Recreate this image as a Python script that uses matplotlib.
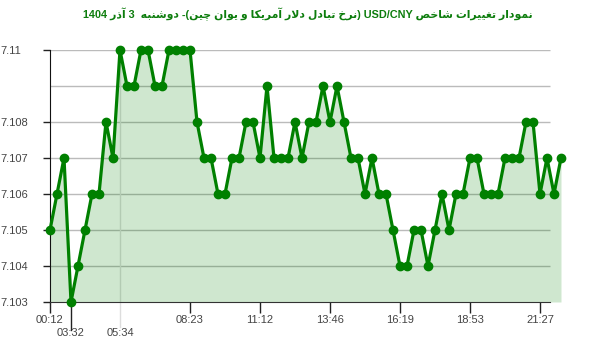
import re
import numpy as np
import matplotlib
matplotlib.use("Agg")
import matplotlib.pyplot as plt

# rate values, one every ~20 min
values = [7.105, 7.106, 7.107, 7.103, 7.104, 7.105, 7.106, 7.106, 7.108, 7.107,
          7.110, 7.109, 7.109, 7.110, 7.110, 7.109, 7.109, 7.110, 7.110, 7.110,
          7.110, 7.108, 7.107, 7.107, 7.106, 7.106, 7.107, 7.107, 7.108, 7.108,
          7.107, 7.109, 7.107, 7.107, 7.107, 7.108, 7.107, 7.108, 7.108, 7.109,
          7.108, 7.109, 7.108, 7.107, 7.107, 7.106, 7.107, 7.106, 7.106, 7.105,
          7.104, 7.104, 7.105, 7.105, 7.104, 7.105, 7.106, 7.105, 7.106, 7.106,
          7.107, 7.107, 7.106, 7.106, 7.106, 7.107, 7.107, 7.107, 7.108, 7.108,
          7.106, 7.107, 7.106, 7.107]

time_labels = ["00:12", "03:32", "05:34", "08:23", "11:12", "13:46", "16:19", "18:53", "21:27"]
time_idx = [0, 3, 10, 20, 30, 40, 50, 60, 70]
second_row = ["03:32", "05:34"]

y_ticks = [7.103, 7.104, 7.105, 7.106, 7.107, 7.108, 7.11]
y_labels = ["7.103", "7.104", "7.105", "7.106", "7.107", "7.108", "7.11"]
grid_levels = [7.104, 7.105, 7.106, 7.107, 7.108, 7.109, 7.11]

title = "نمودار تغییرات شاخص USD/CNY (نرخ تبادل دلار آمریکا و یوان چین)- دوشنبه  3 آذر 1404"

GREEN = "#008000"

# matplotlib has no arabic shaping, do it by hand
FORMS = {
    'ا': ('\uFE8D', '\uFE8E', None, None),
    'آ': ('\uFE81', '\uFE82', None, None),
    'ب': ('\uFE8F', '\uFE90', '\uFE91', '\uFE92'),
    'ت': ('\uFE95', '\uFE96', '\uFE97', '\uFE98'),
    'خ': ('\uFEA5', '\uFEA6', '\uFEA7', '\uFEA8'),
    'د': ('\uFEA9', '\uFEAA', None, None),
    'ذ': ('\uFEAB', '\uFEAC', None, None),
    'ر': ('\uFEAD', '\uFEAE', None, None),
    'ش': ('\uFEB5', '\uFEB6', '\uFEB7', '\uFEB8'),
    'ص': ('\uFEB9', '\uFEBA', '\uFEBB', '\uFEBC'),
    'غ': ('\uFECD', '\uFECE', '\uFECF', '\uFED0'),
    'ل': ('\uFEDD', '\uFEDE', '\uFEDF', '\uFEE0'),
    'م': ('\uFEE1', '\uFEE2', '\uFEE3', '\uFEE4'),
    'ن': ('\uFEE5', '\uFEE6', '\uFEE7', '\uFEE8'),
    'ه': ('\uFEE9', '\uFEEA', '\uFEEB', '\uFEEC'),
    'و': ('\uFEED', '\uFEEE', None, None),
    'ی': ('\uFBFC', '\uFBFD', '\uFBFE', '\uFBFF'),
    'ک': ('\uFB8E', '\uFB8F', '\uFB90', '\uFB91'),
    'چ': ('\uFB7A', '\uFB7B', '\uFB7C', '\uFB7D'),
}


def shape_fa(text):
    out = []
    i = 0
    n = len(text)
    while i < n:
        c = text[i]
        if c not in FORMS:
            out.append(c)
            i += 1
            continue
        prev = text[i - 1] if i > 0 else ''
        joins_prev = prev in FORMS and FORMS[prev][2] is not None
        if c == 'ل' and i + 1 < n and text[i + 1] in ('ا', 'آ'):
            lig = ('\uFEFB', '\uFEFC') if text[i + 1] == 'ا' else ('\uFEF5', '\uFEF6')
            out.append(lig[1] if joins_prev else lig[0])
            i += 2
            continue
        nxt = text[i + 1] if i + 1 < n else ''
        iso, fin, ini, med = FORMS[c]
        joins_next = ini is not None and nxt in FORMS
        if joins_prev and joins_next:
            out.append(med)
        elif joins_prev:
            out.append(fin)
        elif joins_next:
            out.append(ini)
        else:
            out.append(iso)
        i += 1
    return ''.join(out)


def visual(text):
    parts = re.split(r'([A-Za-z0-9/]+)', shape_fa(text))
    mirror = str.maketrans('()', ')(')
    vis = []
    for p in reversed(parts):
        if re.fullmatch(r'[A-Za-z0-9/]+', p):
            vis.append(p)
        else:
            vis.append(p[::-1].translate(mirror))
    return ''.join(vis)


plt.rcParams['font.family'] = ['Liberation Sans', 'DejaVu Sans']

fig = plt.figure(figsize=(6, 3.52), dpi=100)
ax = fig.add_axes([50 / 600, 50 / 352, 520 / 600, 252 / 352])

x = np.arange(len(values))
grid_end = 500 / 7  # gridlines stop before last points

ax.hlines(grid_levels, 0, grid_end, color="#bbbbbb", lw=1, zorder=0)
ax.axvline(10, ymin=-0.1, ymax=1, color="#dddddd", lw=1, zorder=0, clip_on=False)
ax.axvline(3, ymin=-0.11, ymax=0, color="#222222", lw=1, clip_on=False)

ax.fill_between(x, values, 7.103, color=GREEN, alpha=0.19, lw=0, zorder=1)
ax.plot(x, values, color=GREEN, lw=2.3, marker='o', markersize=6, zorder=3, clip_on=False)

ax.set_xlim(0, 520 / 7)
ax.set_ylim(7.103, 7.11)

for s in ["top", "right"]:
    ax.spines[s].set_visible(False)
ax.spines["left"].set_color("#111111")
ax.spines["bottom"].set_color("#333333")
ax.spines["bottom"].set_bounds(0, grid_end)

major = [(i, t) for i, t in zip(time_idx, time_labels) if t not in second_row]
minor = [(i, t) for i, t in zip(time_idx, time_labels) if t in second_row]
ax.set_xticks([i for i, _ in major], [t for _, t in major])
ax.set_xticks([i for i, _ in minor], [t for _, t in minor], minor=True)
ax.tick_params(axis='x', which='major', length=8, width=1, color="#222222", pad=1.5,
               labelsize=8, labelcolor="#444444")
ax.tick_params(axis='x', which='minor', length=0, pad=19, labelsize=8, labelcolor="#444444")

ax.set_yticks(y_ticks, y_labels)
ax.tick_params(axis='y', length=5, width=1, color="#222222", pad=31,
               labelsize=8, labelcolor="#444444")
for lab in ax.get_yticklabels():
    lab.set_horizontalalignment('left')

fig.text(0.513, 0.96, visual(title), ha='center', va='center', fontsize=7.8,
         fontweight='bold', color="#0d7d0d")

fig.savefig("out.png", dpi=100)
